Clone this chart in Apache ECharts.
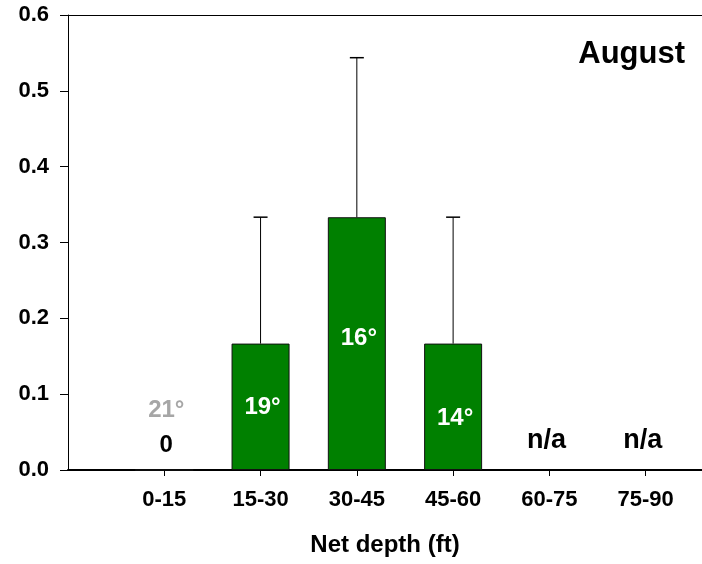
<!DOCTYPE html>
<html>
<head>
<meta charset="utf-8">
<script src="https://cdn.jsdelivr.net/npm/echarts@6/dist/echarts.min.js"></script>
<style>
  html, body { margin: 0; padding: 0; background: #fff; }
  #chart { width: 702px; height: 564px; }
</style>
</head>
<body>
<div id="chart"></div>
<script>
// ---- data ----
const categories = ['0-15', '15-30', '30-45', '45-60', '60-75', '75-90'];
const meanValues = [0, 0.1667, 0.3333, 0.1667, null, null];
const errorPlus  = [null, 0.1667, 0.2104, 0.1667, null, null];
const temperatures = ['21°', '19°', '16°', '14°', null, null];
const yTicks = [0, 0.1, 0.2, 0.3, 0.4, 0.5, 0.6];
const monthLabel = 'August';
const xTitle = 'Net depth (ft)';

// ---- styling (pixel offsets above the baseline for the annotation texts) ----
const FONT = 'Liberation Sans, Arial, Helvetica, sans-serif';
const tempOffsets = [59.5, 63, 132, 52, 0, 0];
const GREEN = '#008000';

const xPos = categories.map((c, i) => i + 1);

const barData = meanValues.map((v, i) => [xPos[i], v]);
const errData = [];
meanValues.forEach((v, i) => {
  if (v != null && errorPlus[i] != null) errData.push([xPos[i], v, v + errorPlus[i]]);
});
const annData = categories.map((c, i) => [xPos[i], i]);

const chart = echarts.init(document.getElementById('chart'), null, { renderer: 'canvas' });

chart.setOption({
  animation: false,
  backgroundColor: '#ffffff',
  title: {
    text: monthLabel,
    right: 17,
    top: 39,
    padding: 0,
    textStyle: { fontFamily: FONT, fontWeight: 'bold', fontSize: 31, color: '#000' }
  },
  grid: { left: 68, right: 0, top: 15, bottom: 94, containLabel: false, outerBoundsMode: 'none' },
  xAxis: [{
    type: 'value',
    min: 0,
    max: 6.585,
    interval: 1,
    splitLine: { show: false },
    axisLine: { show: true, onZero: false, lineStyle: { color: '#000', width: 2 } },
    axisTick: { show: true, length: 6, customValues: xPos, lineStyle: { color: '#000', width: 1 } },
    axisLabel: {
      customValues: xPos,
      margin: 19,
      fontFamily: FONT, fontWeight: 'bold', fontSize: 22, color: '#000',
      formatter: v => categories[Math.round(v) - 1] || ''
    },
    name: xTitle,
    nameLocation: 'middle',
    nameGap: 63,
    nameTextStyle: { fontFamily: FONT, fontWeight: 'bold', fontSize: 24, color: '#000' }
  }, {
    type: 'value',
    position: 'top',
    min: 0,
    max: 6.585,
    splitLine: { show: false },
    axisLine: { show: true, onZero: false, lineStyle: { color: '#000', width: 1 } },
    axisTick: { show: false },
    axisLabel: { show: false }
  }],
  yAxis: {
    type: 'value',
    min: yTicks[0],
    max: yTicks[yTicks.length - 1],
    interval: 0.1,
    splitLine: { show: false },
    axisLine: { show: true, lineStyle: { color: '#000', width: 1 } },
    axisTick: { show: true, length: 8, lineStyle: { color: '#000', width: 1 } },
    axisLabel: {
      margin: 19,
      fontFamily: FONT, fontWeight: 'bold', fontSize: 22, color: '#000',
      formatter: v => v.toFixed(1)
    }
  },
  series: [
    {
      type: 'bar',
      data: barData,
      barWidth: 58,
      itemStyle: { color: GREEN, borderColor: '#111', borderWidth: 1 },
      z: 2
    },
    {
      type: 'custom',
      data: errData,
      z: 3,
      renderItem: (params, api) => {
        const x = api.value(0);
        const top = api.coord([x, api.value(2)]);
        const base = api.coord([x, api.value(1)]);
        const cap = 7;
        return {
          type: 'group',
          children: [
            { type: 'line', shape: { x1: base[0], y1: base[1], x2: top[0], y2: top[1] },
              style: { stroke: '#000', lineWidth: 1 } },
            { type: 'line', shape: { x1: top[0] - cap, y1: top[1], x2: top[0] + cap, y2: top[1] },
              style: { stroke: '#000', lineWidth: 1.5 } }
          ]
        };
      }
    },
    {
      type: 'custom',
      data: annData,
      z: 5,
      renderItem: (params, api) => {
        const x = api.value(0);
        const i = api.value(1);
        const base = api.coord([x, 0]);
        const children = [];
        const hasBar = meanValues[i] != null && meanValues[i] > 0;
        if (temperatures[i]) {
          children.push({
            type: 'text',
            x: base[0] + 2,
            y: base[1] - tempOffsets[i],
            style: {
              text: temperatures[i],
              fill: hasBar ? '#ffffff' : '#a6a6a6',
              font: 'bold 24px ' + FONT,
              align: 'center',
              verticalAlign: 'middle'
            }
          });
        }
        if (meanValues[i] == null) {
          children.push({
            type: 'text', x: base[0] - 3, y: base[1] - 29.5,
            style: { text: 'n/a', fill: '#000', font: 'bold 27px ' + FONT, align: 'center', verticalAlign: 'middle' }
          });
        } else if (meanValues[i] === 0) {
          children.push({
            type: 'text', x: base[0] + 2, y: base[1] - 24.5,
            style: { text: String(meanValues[i]), fill: '#000', font: 'bold 24px ' + FONT, align: 'center', verticalAlign: 'middle' }
          });
        }
        return { type: 'group', children };
      }
    }
  ]
});
</script>
</body>
</html>
